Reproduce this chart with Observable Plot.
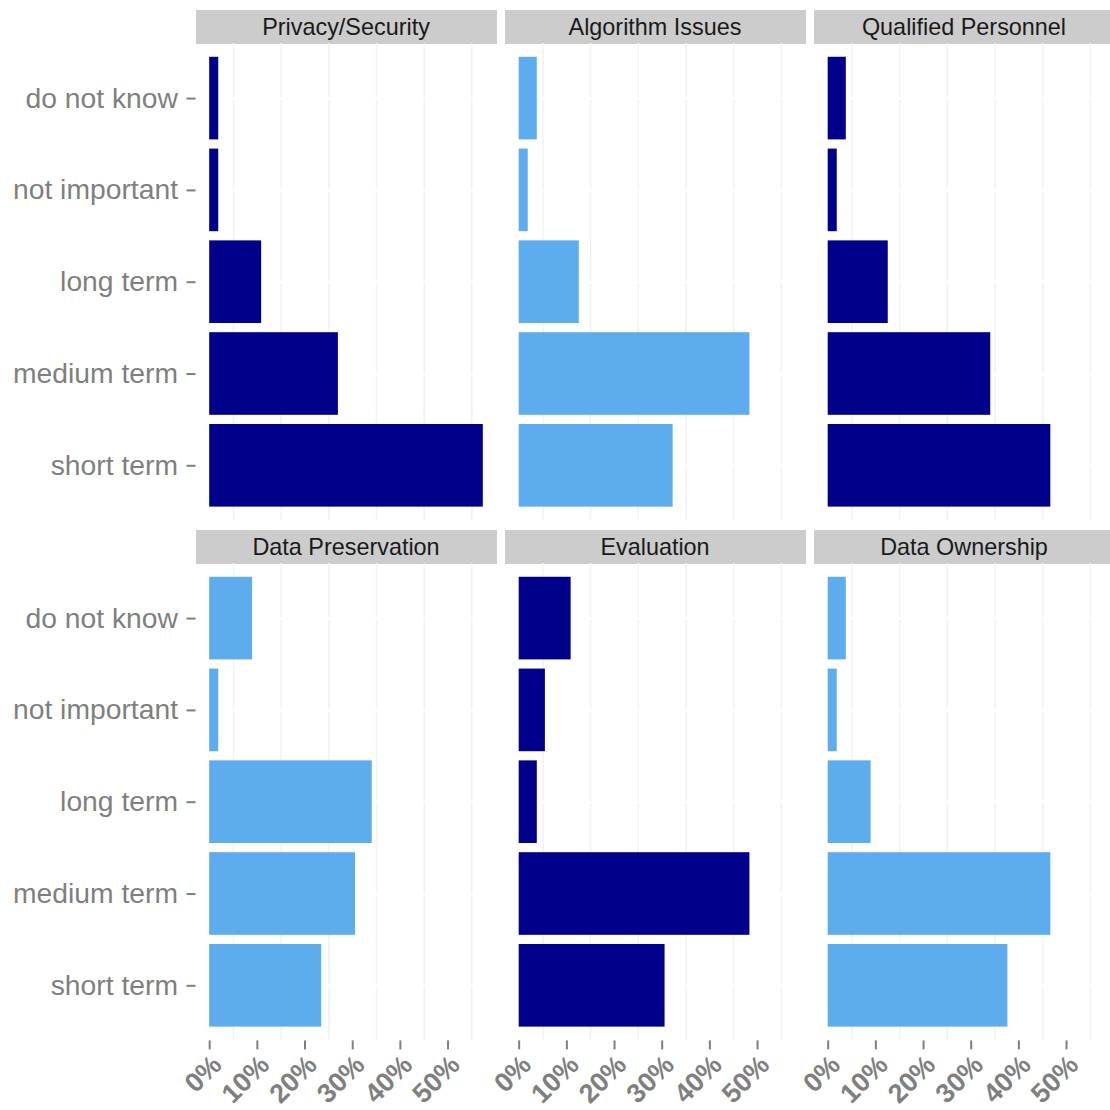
<!DOCTYPE html>
<html>
<head>
<meta charset="utf-8">
<script src="https://cdn.jsdelivr.net/npm/d3@7"></script>
<script src="https://cdn.jsdelivr.net/npm/@observablehq/plot@0.6"></script>
<style>
  html, body { margin: 0; padding: 0; background: #ffffff; }
  #chart { position: relative; width: 1110px; height: 1110px; overflow: hidden; background: #ffffff;
           font-family: "Liberation Sans", Arial, Helvetica, sans-serif; }
  .strip { position: absolute; background: #cccccc; color: #1a1a1a; font-size: 23.4px;
           display: flex; align-items: center; justify-content: center; white-space: nowrap; }
  .panel { position: absolute; }
  .panel svg { overflow: visible; max-width: none; background: transparent; }
</style>
</head>
<body>
<div id="chart"></div>
<script>
// ---- data (percent of respondents) ----
const categories = ["do not know", "not important", "long term", "medium term", "short term"];
const panelTitles = ["Privacy/Security", "Algorithm Issues", "Qualified Personnel",
                     "Data Preservation", "Evaluation", "Data Ownership"];
const privacySecurity    = [1.9, 1.9, 10.9, 27.0, 57.4];
const algorithmIssues    = [3.8, 1.9, 12.6, 48.4, 32.3];
const qualifiedPersonnel = [3.8, 1.9, 12.6, 34.1, 46.7];
const dataPreservation   = [9.0, 1.9, 34.1, 30.6, 23.5];
const evaluation         = [10.9, 5.5, 3.8, 48.4, 30.6];
const dataOwnership      = [3.8, 1.9, 9.0, 46.7, 37.7];
const panelGroup = ["dark", "light", "dark", "light", "dark", "light"];
const xTicks = [0, 10, 20, 30, 40, 50];
const xMinorGrid = [5, 15, 25, 35, 45, 55];

const series = [privacySecurity, algorithmIssues, qualifiedPersonnel,
                dataPreservation, evaluation, dataOwnership];

// ---- layout / style ----
const groupColor = {dark: "#00008B", light: "#5CACEE"};
const PANEL_LEFT = 195.5, PANEL_W = 301, COL_STEP = 309;
const STRIP_TOP = 9.5, STRIP_H = 34, ROW_STEP = 520;
const PANEL_TOP = 43.3, PANEL_H = 477.4;
const AXIS_GREY = "#7f7f7f";

const allValues = series.flat();
const xmax = d3.max(allValues);
const xDomain = [-0.05 * xmax, 1.05 * xmax];

const chart = document.getElementById("chart");

panelTitles.forEach((title, i) => {
  const r = Math.floor(i / 3), c = i % 3;
  const showY = c === 0, showX = r === 1;
  const frameLeft = PANEL_LEFT + c * COL_STEP;

  const strip = document.createElement("div");
  strip.className = "strip";
  strip.style.left = frameLeft + "px";
  strip.style.top = (STRIP_TOP + r * ROW_STEP) + "px";
  strip.style.width = PANEL_W + "px";
  strip.style.height = STRIP_H + "px";
  strip.style.paddingTop = "1px";
  strip.style.boxSizing = "border-box";
  strip.textContent = title;
  chart.appendChild(strip);

  const ml = showY ? PANEL_LEFT : 0;
  const mb = showX ? 68 : 0;
  const data = categories.map((cat, j) => ({cat, value: series[i][j]}));

  const plot = Plot.plot({
    width: ml + PANEL_W,
    height: PANEL_H + mb,
    marginLeft: ml, marginRight: 0, marginTop: 0, marginBottom: mb,
    style: {fontFamily: "'Liberation Sans', Arial, Helvetica, sans-serif", background: "transparent", overflow: "visible"},
    x: {domain: xDomain, axis: showX ? undefined : null, label: null},
    y: {domain: categories, paddingInner: 0.1, paddingOuter: 0.15, round: false, axis: showY ? undefined : null, label: null},
    marks: [
      Plot.ruleX(xMinorGrid, {stroke: "#f2f2f2", strokeWidth: 1.6}),
      Plot.ruleY(categories, {stroke: "#ffffff", strokeWidth: 2.8}),
      Plot.barX(data, {x: "value", y: "cat", fill: groupColor[panelGroup[i]]}),
      showY ? Plot.axisY({label: null, tickSize: 9, tickPadding: 9, fontSize: 28.3, fill: AXIS_GREY, stroke: AXIS_GREY, strokeWidth: 2}) : null,
      showX ? Plot.axisX({label: null, ticks: xTicks, tickFormat: d => d + "%", tickSize: 9, tickPadding: 3,
                           tickRotate: -45, textAnchor: "end", lineAnchor: "top",
                           fontSize: 27, fontWeight: "bold", fill: AXIS_GREY, stroke: AXIS_GREY, strokeWidth: 2}) : null
    ]
  });

  const holder = document.createElement("div");
  holder.className = "panel";
  holder.style.left = (frameLeft - ml) + "px";
  holder.style.top = (PANEL_TOP + r * ROW_STEP) + "px";
  holder.appendChild(plot);
  chart.appendChild(holder);
});
</script>
</body>
</html>
